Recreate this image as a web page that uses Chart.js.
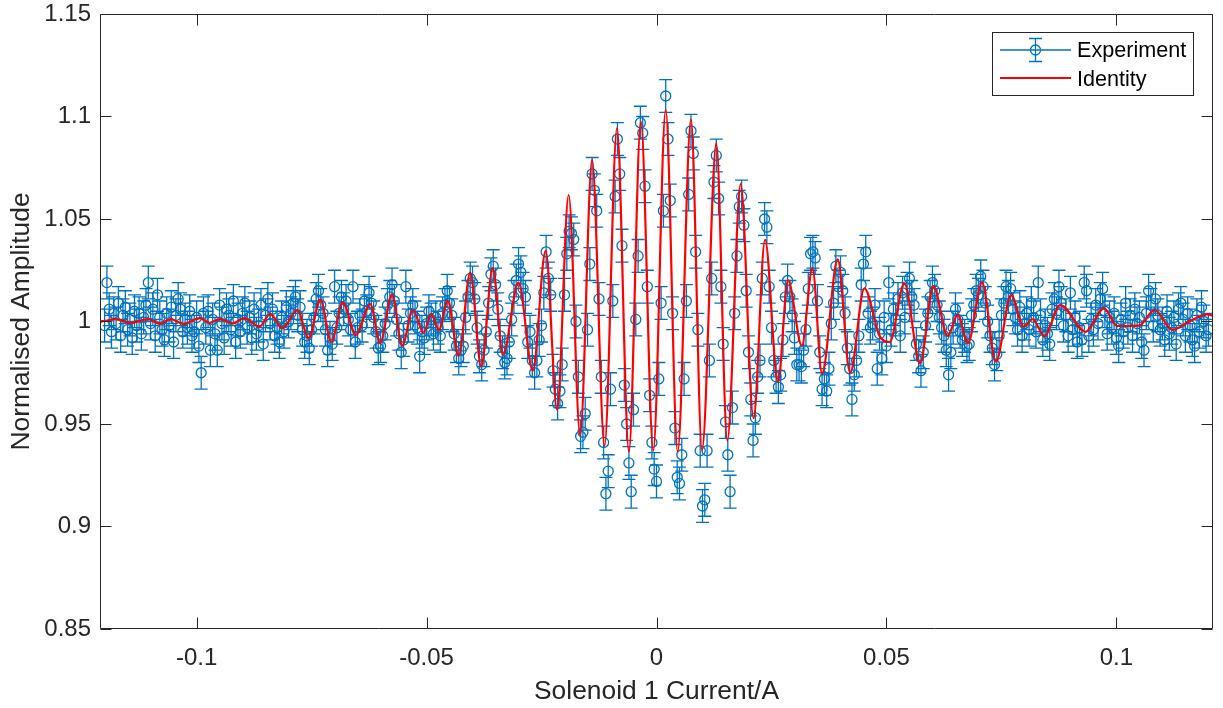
<!DOCTYPE html>
<html><head><meta charset="utf-8">
<script src="https://cdn.jsdelivr.net/npm/chart.js@4.4.1/dist/chart.umd.min.js"></script>
<style>html,body{margin:0;padding:0;background:#fff;overflow:hidden}canvas{display:block}</style>
</head><body>
<canvas id="c" width="1223" height="708"></canvas>
<script>
// ---- data ----
const expXStart = -0.12;
const expXStep = 0.0005;
const experimentY = [
0.998,1.019,1.006,0.995,1.004,0.999,1.009,0.993,1.003,1.007,0.996,1.001,0.992,1.005,0.998,1.004,0.994,1.002,1.008,1.019,
0.999,1.006,0.993,1.013,1.002,0.996,0.991,1.004,0.998,1.007,0.990,1.003,1.011,1.006,0.995,1.001,0.997,1.005,0.993,0.995,
1.002,0.988,0.975,1.004,0.997,1.005,0.986,1.001,0.994,0.986,1.008,0.999,0.992,1.006,1.003,0.996,1.010,0.990,1.001,0.995,
1.004,1.009,0.997,1.002,0.992,1.006,0.994,0.998,1.008,0.989,1.003,1.011,0.999,1.006,0.993,0.997,0.990,1.002,0.995,1.007,
1.000,1.004,1.009,1.012,1.003,1.007,0.996,0.990,0.993,0.987,0.996,1.002,1.011,1.015,1.008,1.004,0.996,0.986,0.992,0.989,
1.017,0.997,1.004,1.012,1.006,1.010,1.001,0.996,1.017,0.990,0.997,1.003,0.998,1.010,1.005,1.014,1.009,1.002,0.995,0.987,
0.988,0.993,0.999,1.008,1.012,1.018,1.010,1.001,0.994,0.985,0.991,1.017,0.998,1.004,1.008,1.002,0.997,0.983,0.995,0.992,
0.999,1.005,1.001,0.994,1.002,0.997,0.993,1.004,1.008,1.015,1.009,1.003,0.994,0.988,0.982,0.986,0.988,1.002,1.012,1.021,
1.019,1.011,0.997,0.983,0.979,0.986,0.995,1.009,1.023,1.027,1.018,1.006,0.993,0.985,0.980,0.982,0.990,1.001,1.012,1.020,
1.028,1.024,1.016,1.012,0.990,0.995,0.981,0.975,0.981,0.991,0.998,1.014,1.034,1.021,1.013,0.976,0.967,0.960,0.966,0.979,
1.013,1.033,1.044,1.043,1.040,1.000,0.973,0.944,0.946,0.955,0.996,1.028,1.072,1.064,1.054,1.011,0.973,0.941,0.916,0.927,
0.967,1.010,1.061,1.089,1.072,1.037,0.969,0.950,0.931,0.917,0.957,1.001,1.032,1.097,1.092,1.066,1.017,0.964,0.941,0.928,
0.922,0.972,1.009,1.054,1.110,1.089,1.059,1.004,0.948,0.924,0.921,0.935,0.972,1.010,1.062,1.093,1.082,1.034,0.996,0.937,
0.910,0.913,0.937,0.981,1.021,1.068,1.081,1.060,1.017,0.989,0.951,0.935,0.917,0.958,1.004,1.032,1.056,1.061,1.047,1.015,
0.985,0.962,0.942,0.953,0.973,0.981,1.021,1.050,1.046,1.017,0.997,0.981,0.973,0.968,0.974,0.991,1.012,1.020,1.012,1.003,
0.992,0.979,0.979,0.978,0.986,0.996,1.016,1.033,1.034,1.031,1.010,0.985,0.967,0.972,0.966,0.977,0.999,1.009,1.027,1.017,
1.024,1.015,1.004,0.987,0.977,0.962,0.974,0.981,0.993,1.018,1.028,1.034,1.004,0.997,0.999,1.008,0.977,0.994,0.982,1.002,
0.988,1.019,0.996,1.006,1.001,1.011,0.993,1.014,1.002,1.016,1.021,1.012,1.008,0.989,0.983,0.976,0.985,0.998,1.004,1.012,
1.019,1.015,1.008,1.002,0.997,0.993,0.986,0.974,0.985,0.997,1.006,1.001,0.995,0.991,0.993,0.988,0.989,1.003,1.008,1.015,
1.013,1.022,1.017,1.009,1.000,0.993,0.987,0.979,0.984,0.993,1.003,1.009,1.017,1.012,1.016,1.006,1.002,0.996,1.007,0.993,
0.999,1.004,0.996,1.009,1.002,0.995,1.019,1.003,0.991,0.998,0.994,0.989,1.006,1.011,1.004,1.017,1.009,0.998,1.003,0.993,
1.014,0.996,1.002,0.990,0.997,0.991,1.019,1.015,0.993,1.001,0.996,1.008,0.999,1.011,1.016,1.005,0.994,1.002,0.997,1.004,
0.992,0.988,1.001,0.995,1.009,0.997,1.003,0.993,1.006,0.999,1.002,0.990,0.986,1.004,1.015,1.008,0.998,1.011,1.003,0.996,
0.999,0.991,1.005,0.994,0.997,1.002,0.989,1.006,1.009,1.001,0.993,1.004,0.998,0.991,0.988,1.003,0.995,1.007,1.000,0.993,
0.996
];
const experimentErr = 0.008;

const identityX = [
-0.1210,-0.1194,-0.1178,-0.1143,-0.1105,-0.1080,-0.1057,-0.1028,-0.0993,-0.0972,-0.0950,-0.0921,
-0.0896,-0.0863,-0.0840,-0.0813,-0.0781,-0.0756,-0.0731,-0.0707,-0.0682,-0.0654,-0.0622,-0.0601,
-0.0575,-0.0553,-0.0530,-0.0506,-0.0490,-0.0473,-0.0454,-0.0430,-0.0405,-0.0381,-0.0356,-0.0334,
-0.0300,-0.0269,-0.0241,-0.0216,-0.0191,-0.0166,-0.0140,-0.0113,-0.0086,-0.0060,-0.0034,-0.0007,
0.0020,0.0046,0.0075,0.0099,0.0130,0.0154,0.0183,0.0211,0.0236,0.0264,0.0286,0.0316,
0.0339,0.0360,0.0394,0.0421,0.0452,0.0485,0.0507,0.0539,0.0573,0.0602,0.0633,0.0655,
0.0677,0.0708,0.0738,0.0771,0.0798,0.0818,0.0843,0.0878,0.0933,0.0973,0.1002,0.1049,
0.1083,0.1122,0.1160,0.1198,0.1210
];
const identityY = [
1.0000,1.0005,1.0012,0.9994,1.0012,0.9988,1.0012,0.9988,1.0016,0.9994,1.0012,0.9991,
1.0016,0.9975,1.0037,0.9967,1.0056,0.9918,1.0108,0.9901,1.0094,0.9934,1.0085,0.9894,
1.0133,0.9882,1.0056,0.9945,1.0037,0.9959,1.0101,0.9832,1.0238,0.9780,1.0260,0.9837,
1.0190,0.9760,1.0345,0.9570,1.0617,0.9446,1.0788,0.9393,1.0942,0.9365,1.0975,0.9370,
1.1032,0.9365,1.0986,0.9373,1.0869,0.9419,1.0671,0.9528,1.0398,0.9706,1.0202,0.9882,
1.0260,0.9747,1.0303,0.9750,1.0162,0.9930,0.9900,1.0186,0.9796,1.0173,0.9930,1.0032,
0.9894,1.0190,0.9804,1.0129,0.9975,1.0011,0.9929,1.0080,0.9950,1.0064,0.9978,0.9980,
1.0056,0.9959,1.0002,1.0035,1.0027
];

const xTickValues = [-0.1, -0.05, 0, 0.05, 0.1];
const xTickLabels = ['-0.1', '-0.05', '0', '0.05', '0.1'];
const yTickValues = [0.85, 0.9, 0.95, 1, 1.05, 1.1, 1.15];
const yTickLabels = ['0.85', '0.9', '0.95', '1', '1.05', '1.1', '1.15'];
const xRange = [-0.121, 0.121];
const yRange = [0.85, 1.15];
const xTitle = 'Solenoid 1 Current/A';
const yTitle = 'Normalised Amplitude';
const legendLabels = ['Experiment', 'Identity'];

// ---- styles ----
const BLUE = '#0072BD';
const RED = '#FF0000';
const AXIS = '#262626';
const FONT = '"Liberation Sans", Arial, Helvetica, sans-serif';
const CAP = 6.5;
const TICKLEN = 11;

const expPoints = experimentY.map((v, i) => ({x: +(expXStart + i * expXStep).toFixed(4), y: v}));
const idPoints = identityX.map((v, i) => ({x: v, y: identityY[i]}));

const errorBars = {
  id: 'errorBars',
  beforeDatasetsDraw(chart) {
    const {ctx, chartArea: a} = chart;
    const xs = chart.scales.x, ys = chart.scales.y;
    ctx.save();
    ctx.beginPath(); ctx.rect(a.left, a.top, a.right - a.left, a.bottom - a.top); ctx.clip();
    ctx.strokeStyle = BLUE; ctx.lineWidth = 1.3;
    ctx.beginPath();
    expPoints.forEach(p => {
      const px = xs.getPixelForValue(p.x);
      const t = ys.getPixelForValue(p.y + experimentErr);
      const b = ys.getPixelForValue(p.y - experimentErr);
      ctx.moveTo(px, t); ctx.lineTo(px, b);
      ctx.moveTo(px - CAP, t); ctx.lineTo(px + CAP, t);
      ctx.moveTo(px - CAP, b); ctx.lineTo(px + CAP, b);
    });
    ctx.stroke();
    ctx.restore();
  }
};

const frame = {
  id: 'frame',
  afterDraw(chart) {
    const {ctx, chartArea: a} = chart;
    const xs = chart.scales.x, ys = chart.scales.y;
    ctx.save();
    ctx.strokeStyle = AXIS; ctx.lineWidth = 1;
    ctx.beginPath();
    const L = Math.round(a.left) + 0.5, R = Math.round(a.right) - 0.5;
    const T = Math.round(a.top) + 0.5, B = Math.round(a.bottom) - 0.5;
    ctx.rect(L, T, R - L, B - T);
    xTickValues.forEach(v => {
      const px = Math.round(xs.getPixelForValue(v)) + 0.5;
      ctx.moveTo(px, B); ctx.lineTo(px, B - TICKLEN);
      ctx.moveTo(px, T); ctx.lineTo(px, T + TICKLEN);
    });
    yTickValues.forEach(v => {
      const py = Math.round(ys.getPixelForValue(v)) + 0.5;
      ctx.moveTo(L, py); ctx.lineTo(L + TICKLEN, py);
      ctx.moveTo(R, py); ctx.lineTo(R - TICKLEN, py);
    });
    ctx.stroke();

    // legend
    const lx = 992.5, ly = 32.5, lw = 201, lh = 63;
    ctx.fillStyle = '#fff';
    ctx.fillRect(lx, ly, lw, lh);
    ctx.strokeRect(lx, ly, lw, lh);
    const r1 = 50, r2 = 78;
    ctx.strokeStyle = BLUE; ctx.lineWidth = 1.3;
    ctx.beginPath();
    ctx.moveTo(1000, r1); ctx.lineTo(1071, r1);
    ctx.moveTo(1035.5, r1 - 11.5); ctx.lineTo(1035.5, r1 + 11.5);
    ctx.moveTo(1029, r1 - 11.5); ctx.lineTo(1042, r1 - 11.5);
    ctx.moveTo(1029, r1 + 11.5); ctx.lineTo(1042, r1 + 11.5);
    ctx.stroke();
    ctx.beginPath(); ctx.arc(1035.5, r1, 5, 0, Math.PI * 2); ctx.stroke();
    ctx.strokeStyle = RED; ctx.lineWidth = 2;
    ctx.beginPath(); ctx.moveTo(1000, r2); ctx.lineTo(1071, r2); ctx.stroke();
    ctx.fillStyle = '#000';
    ctx.font = '21.6px ' + FONT;
    ctx.textBaseline = 'middle';
    ctx.textAlign = 'left';
    ctx.fillText(legendLabels[0], 1077, r1 + 1);
    ctx.fillText(legendLabels[1], 1077, r2 + 2);
    ctx.restore();
  }
};

new Chart(document.getElementById('c'), {
  type: 'scatter',
  data: {
    datasets: [
      {
        label: legendLabels[0], data: expPoints, order: 2,
        showLine: false, pointStyle: 'circle', pointRadius: 5, pointBorderWidth: 1.3,
        pointBorderColor: BLUE, pointBackgroundColor: 'rgba(0,0,0,0)', pointHoverRadius: 5
      },
      {
        label: legendLabels[1], data: idPoints, order: 1, type: 'line',
        showLine: true, pointRadius: 0, borderColor: RED, borderWidth: 2.2,
        cubicInterpolationMode: 'monotone', fill: false
      }
    ]
  },
  options: {
    responsive: false, animation: false, devicePixelRatio: 1,
    layout: {padding: {top: 14, right: 10, left: 0, bottom: 0}},
    plugins: {legend: {display: false}, tooltip: {enabled: false}},
    scales: {
      x: {
        type: 'linear', min: xRange[0], max: xRange[1],
        grid: {display: false, drawTicks: false}, border: {display: false},
        afterBuildTicks: s => { s.ticks = xTickValues.map(v => ({value: v})); },
        ticks: {color: AXIS, font: {family: FONT, size: 24}, padding: 15,
          callback: (v) => xTickLabels[xTickValues.indexOf(v)]},
        title: {display: true, text: xTitle, color: AXIS, font: {family: FONT, size: 26.4}, padding: {top: 0, bottom: 0}},
        afterFit: s => { s.height = 79; s.paddingLeft = 0; s.paddingRight = 0; }
      },
      y: {
        type: 'linear', min: yRange[0], max: yRange[1],
        grid: {display: false, drawTicks: false}, border: {display: false},
        afterBuildTicks: s => { s.ticks = yTickValues.map(v => ({value: v})); },
        ticks: {color: AXIS, font: {family: FONT, size: 24}, padding: 9,
          callback: (v) => yTickLabels[yTickValues.indexOf(v)]},
        title: {display: true, text: yTitle, color: AXIS, font: {family: FONT, size: 26.4}, padding: {top: 6, bottom: 0}},
        afterFit: s => { s.width = 100; s.paddingTop = 0; s.paddingBottom = 0; }
      }
    }
  },
  plugins: [errorBars, frame]
});
</script>
</body></html>
